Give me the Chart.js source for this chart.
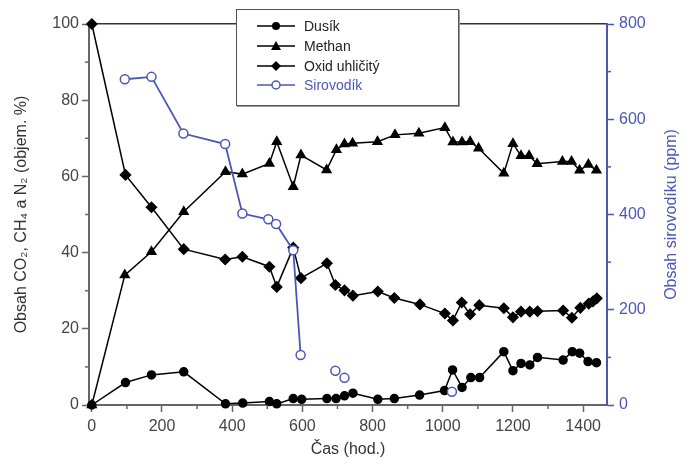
<!DOCTYPE html>
<html>
<head>
    <title>Obsah plynů v čase</title>
    <script src="https://cdn.jsdelivr.net/npm/chart.js"></script>
    <style>
        body {
            margin: 0;
            background: #fff;
            font-family: "Liberation Sans", Arial, sans-serif;
        }
        #obal {
            position: relative;
            width: 689px;
            height: 464px;
        }
        #legenda {
            position: absolute;
            left: 236px;
            top: 9px;
            width: 221px;
            height: 95px;
            background: #fff;
            border: 1px solid #555;
            box-shadow: 1px 1px 0 #999;
        }
        .radek {
            position: absolute;
            left: 0;
            height: 18px;
            width: 100%;
        }
        .radek svg {
            position: absolute;
            left: 20px;
            top: 3px;
        }
        .radek span {
            position: absolute;
            left: 67px;
            top: 0;
            font-size: 14px;
            line-height: 18px;
            color: #222;
        }
    </style>
</head>
<body>
<div id="obal">
    <canvas id="graf" width="689" height="464"></canvas>
    <div id="legenda">
        <div class="radek" style="top:7px">
            <svg width="38" height="12"><line x1="0" y1="6" x2="38" y2="6" stroke="#000" stroke-width="1.5"/><circle cx="19" cy="6" r="4" fill="#000"/></svg>
            <span>Dusík</span>
        </div>
        <div class="radek" style="top:27px">
            <svg width="38" height="12"><line x1="0" y1="6" x2="38" y2="6" stroke="#000" stroke-width="1.5"/><polygon points="19,1 24,10 14,10" fill="#000"/></svg>
            <span>Methan</span>
        </div>
        <div class="radek" style="top:47px">
            <svg width="38" height="12"><line x1="0" y1="6" x2="38" y2="6" stroke="#000" stroke-width="1.5"/><polygon points="19,1 24,6 19,11 14,6" fill="#000"/></svg>
            <span>Oxid uhličitý</span>
        </div>
        <div class="radek" style="top:66px">
            <svg width="38" height="12"><line x1="0" y1="6" x2="38" y2="6" stroke="#4b57b5" stroke-width="1.5"/><circle cx="19" cy="6" r="4" fill="#fff" stroke="#4b57b5" stroke-width="1.5"/></svg>
            <span style="color:#4b57b5">Sirovodík</span>
        </div>
    </div>
</div>

<script>
    // hodnoty (čas v hodinách)
    const dusikCas = [0, 96, 170, 262, 381, 430, 506, 527, 574, 598, 670, 696, 720, 744, 815, 862, 934, 1005, 1028, 1055, 1080, 1105, 1174, 1200, 1223, 1248, 1270, 1343, 1369, 1390, 1414, 1438];
    const dusikObsah = [0, 5.9, 7.9, 8.7, 0.3, 0.5, 0.9, 0.3, 1.7, 1.5, 1.7, 1.7, 2.4, 3.1, 1.5, 1.7, 2.6, 3.8, 9.2, 4.6, 7.2, 7.2, 14, 9, 10.9, 10.5, 12.5, 11.8, 14, 13.6, 11.4, 11.1];

    const methanCas = [0, 94, 170, 262, 381, 429, 506, 527, 574, 596, 669, 697, 720, 743, 814, 864, 932, 1006, 1029, 1055, 1078, 1102, 1174, 1200, 1223, 1246, 1269, 1341, 1367, 1390, 1415, 1438];
    const methanObsah = [0, 34.1, 40.2, 50.7, 61.2, 60.6, 63.4, 69.1, 57.3, 65.6, 61.7, 67, 68.5, 68.7, 69.1, 70.9, 71.3, 72.8, 69, 69, 69.1, 67.4, 60.8, 68.6, 65.4, 65.4, 63.3, 63.9, 63.9, 61.6, 63.1, 61.6];

    const oxidCas = [0, 96, 170, 262, 380, 429, 506, 527, 574, 596, 670, 694, 720, 744, 815, 862, 935, 1006, 1029, 1054, 1078, 1104, 1174, 1200, 1223, 1248, 1270, 1343, 1368, 1392, 1416, 1428, 1439];
    const oxidObsah = [100, 60.4, 51.9, 40.9, 38.2, 38.9, 36.3, 31.0, 41.3, 33.3, 37.2, 31.5, 30.1, 28.7, 29.8, 28.1, 26.4, 24, 22.2, 26.9, 23.8, 26.2, 25.4, 23, 24.5, 24.5, 24.6, 24.8, 22.9, 25.5, 26.6, 27.2, 28];

    // sirovodík v ppm, poslední tři body nejsou spojené čarou
    const sirovodikCas = [94, 170, 261, 380, 429, 503, 525, 574, 595, 694, 720, 1026];
    const sirovodikPpm = [684, 689, 570, 548, 402, 390, 380, 325, 105, 72, 57, 28];
    const sirovodikSpojeno = 8;

    const casTicks = [0, 200, 400, 600, 800, 1000, 1200, 1400];
    const obsahTicks = [0, 20, 40, 60, 80, 100];
    const ppmTicks = [0, 200, 400, 600, 800];

    const modra = "#4b57b5";
    const sedaText = "#444";
    const pismo = "'Liberation Sans', Arial, sans-serif";

    const body = (xs, ys) => xs.map((x, i) => ({ x: x, y: ys[i] }));

    // drobné dílky mezi hlavními
    const minorTicks = {
        id: "minorTicks",
        afterDraw(chart) {
            const ctx = chart.ctx;
            const sx = chart.scales.x, sl = chart.scales.y, sr = chart.scales.yR;
            ctx.save();
            ctx.lineWidth = 1.5;
            ctx.strokeStyle = "#666";
            for (let v = 100; v < 1468; v += 200) {
                const px = sx.getPixelForValue(v);
                ctx.beginPath(); ctx.moveTo(px, sx.top); ctx.lineTo(px, sx.top + 4); ctx.stroke();
            }
            for (let v = 10; v < 100; v += 20) {
                const py = sl.getPixelForValue(v);
                ctx.beginPath(); ctx.moveTo(sl.right, py); ctx.lineTo(sl.right - 4, py); ctx.stroke();
            }
            ctx.strokeStyle = modra;
            for (let v = 100; v < 800; v += 200) {
                const py = sr.getPixelForValue(v);
                ctx.beginPath(); ctx.moveTo(sr.left, py); ctx.lineTo(sr.left + 4, py); ctx.stroke();
            }
            // popisek pravé osy (zdola nahoru)
            const a = chart.chartArea;
            ctx.translate(sr.right - 17, (a.top + a.bottom) / 2);
            ctx.rotate(-Math.PI / 2);
            ctx.fillStyle = modra;
            ctx.font = "16px " + pismo;
            ctx.textAlign = "center";
            ctx.textBaseline = "middle";
            ctx.fillText("Obsah sirovodíku (ppm)", 0, 0);
            ctx.restore();
        }
    };

    new Chart(document.getElementById("graf"), {
        type: "line",
        data: {
            datasets: [
                {
                    label: "Dusík",
                    data: body(dusikCas, dusikObsah),
                    borderColor: "#000",
                    backgroundColor: "#000",
                    borderWidth: 1.5,
                    pointStyle: "circle",
                    pointRadius: 4,
                    yAxisID: "y",
                    clip: false
                },
                {
                    label: "Methan",
                    data: body(methanCas, methanObsah),
                    borderColor: "#000",
                    backgroundColor: "#000",
                    borderWidth: 1.5,
                    pointStyle: "triangle",
                    pointRadius: 5,
                    yAxisID: "y",
                    clip: false
                },
                {
                    label: "Oxid uhličitý",
                    data: body(oxidCas, oxidObsah),
                    borderColor: "#000",
                    backgroundColor: "#000",
                    borderWidth: 1.5,
                    pointStyle: "rectRot",
                    pointRadius: 5,
                    yAxisID: "y",
                    clip: false
                },
                {
                    label: "Sirovodík",
                    data: body(sirovodikCas, sirovodikPpm),
                    borderColor: modra,
                    backgroundColor: "#fff",
                    pointBorderColor: modra,
                    borderWidth: 1.8,
                    pointBorderWidth: 1.5,
                    pointStyle: "circle",
                    pointRadius: 4.5,
                    yAxisID: "yR",
                    order: -1,
                    clip: false,
                    segment: {
                        borderColor: c => c.p0DataIndex >= sirovodikSpojeno ? "transparent" : modra
                    }
                }
            ]
        },
        options: {
            responsive: false,
            animation: false,
            layout: { padding: 0 },
            plugins: {
                legend: { display: false },
                tooltip: { enabled: false }
            },
            elements: { line: { tension: 0 } },
            scales: {
                x: {
                    type: "linear",
                    position: "bottom",
                    min: -8,
                    max: 1468,
                    afterBuildTicks: s => { s.ticks = casTicks.map(v => ({ value: v })); },
                    afterFit: s => { s.height = 59; },
                    ticks: {
                        color: sedaText,
                        font: { size: 16, family: pismo },
                        padding: 5,
                        maxRotation: 0,
                        callback: v => String(v)
                    },
                    grid: { drawOnChartArea: false, tickLength: 7, tickColor: "#666", tickWidth: 1.5 },
                    border: { color: "#666", width: 2 },
                    title: {
                        display: true,
                        text: "Čas (hod.)",
                        color: "#333",
                        font: { size: 16, family: pismo },
                        padding: { top: 0, bottom: 5 }
                    }
                },
                xTop: {
                    type: "linear",
                    position: "top",
                    min: -8,
                    max: 1468,
                    afterFit: s => { s.height = 24; },
                    ticks: { display: false },
                    grid: { display: false },
                    border: { color: "#333", width: 1.5 }
                },
                y: {
                    type: "linear",
                    position: "left",
                    min: 0,
                    max: 100,
                    afterBuildTicks: s => { s.ticks = obsahTicks.map(v => ({ value: v })); },
                    afterFit: s => { s.width = 89; },
                    ticks: {
                        color: sedaText,
                        font: { size: 16, family: pismo },
                        padding: 3,
                        callback: v => String(v)
                    },
                    grid: { drawOnChartArea: false, tickLength: 7, tickColor: "#666", tickWidth: 1.5 },
                    border: { color: "#666", width: 2 },
                    title: {
                        display: true,
                        text: "Obsah CO₂, CH₄ a N₂ (objem. %)",
                        color: "#333",
                        font: { size: 16, family: pismo },
                        padding: { top: 12, bottom: 0 }
                    }
                },
                yR: {
                    type: "linear",
                    position: "right",
                    min: 0,
                    max: 800,
                    afterBuildTicks: s => { s.ticks = ppmTicks.map(v => ({ value: v })); },
                    afterFit: s => { s.width = 82; },
                    ticks: {
                        color: modra,
                        font: { size: 16, family: pismo },
                        padding: 5,
                        callback: v => String(v)
                    },
                    grid: { drawOnChartArea: false, tickLength: 7, tickColor: modra, tickWidth: 1.5 },
                    border: { color: modra, width: 2 }
                }
            }
        },
        plugins: [minorTicks]
    });
</script>
</body>
</html>
